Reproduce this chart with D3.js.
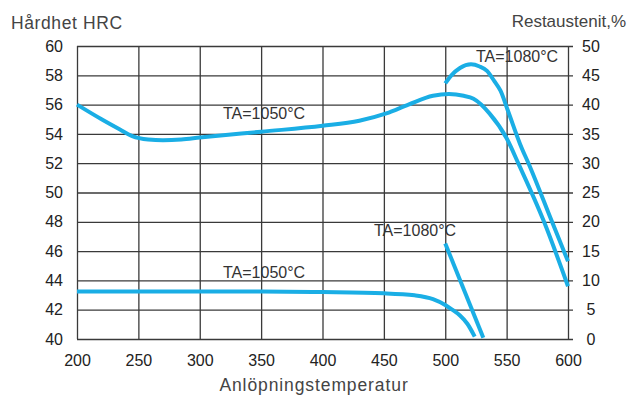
<!DOCTYPE html>
<html>
<head>
<meta charset="utf-8">
<script src="https://cdn.jsdelivr.net/npm/d3@7"></script>
<style>
  body { margin: 0; background: #fff; }
  text { font-family: "Liberation Sans", Arial, sans-serif; }
</style>
</head>
<body>
<div id="chart"></div>
<script>
// tick values
var xTicks = [200, 250, 300, 350, 400, 450, 500, 550, 600];
var hrcTicks = [40, 42, 44, 46, 48, 50, 52, 54, 56, 58, 60];
var raTicks = [0, 5, 10, 15, 20, 25, 30, 35, 40, 45, 50];

// hardness curves (left axis, HRC)
var hrc1050 = [[200, 56.0], [220, 55.0], [235, 54.3], [245, 53.85], [258, 53.62], [270, 53.57],
  [285, 53.62], [300, 53.75], [350, 54.15], [400, 54.55], [430, 54.9], [452, 55.4], [470, 56.0],
  [490, 56.6], [503, 56.72], [515, 56.6], [523, 56.4], [536, 55.4], [550, 53.7], [560, 51.9],
  [580, 48.1], [600, 43.6]];
var hrc1080 = [[500, 57.45], [505, 58.0], [512, 58.5], [521, 58.75], [528, 58.6], [534, 58.3],
  [540, 57.6], [545, 56.95], [551, 55.6], [561, 53.3], [569, 51.76], [586.5, 48.1], [600, 45.3]];

// retained austenite curves (right axis, %)
var ra1050 = [[200, 8.1], [300, 8.1], [350, 8.1], [400, 8.0], [450, 7.8], [475, 7.45], [490, 6.8],
  [500, 5.8], [505, 5.1], [512, 4.0], [518, 2.6], [524, 0.4]];
var ra1080 = [[500, 16.3], [531, 0.2]];

var svgWidth = 627, svgHeight = 396;
var margin = { top: 46, left: 77, right: 59, bottom: 57 };
var chartWidth = svgWidth - margin.left - margin.right;
var chartHeight = svgHeight - margin.top - margin.bottom;

var svg = d3.select("#chart").append("svg")
  .attr("width", svgWidth)
  .attr("height", svgHeight);

var chartGroup = svg.append("g")
  .attr("transform", `translate(${margin.left}, ${margin.top})`);

var xScale = d3.scaleLinear().domain([200, 600]).range([0, chartWidth]);
var yLeft = d3.scaleLinear().domain([40, 60]).range([chartHeight, 0]);
var yRight = d3.scaleLinear().domain([0, 50]).range([chartHeight, 0]);

var gridColor = "#3a3a3a";

// vertical grid
chartGroup.append("g")
  .attr("transform", `translate(0, ${chartHeight})`)
  .call(d3.axisBottom(xScale).tickValues(xTicks).tickSize(-chartHeight).tickFormat(""))
  .call(g => g.select(".domain").remove())
  .call(g => g.selectAll("line").attr("stroke", gridColor).attr("stroke-width", 1.3));

// horizontal grid (extends past right edge as ticks)
chartGroup.append("g")
  .attr("transform", `translate(${chartWidth + 5}, 0)`)
  .call(d3.axisLeft(yLeft).tickValues(hrcTicks).tickSize(chartWidth + 5).tickFormat(""))
  .call(g => g.select(".domain").remove())
  .call(g => g.selectAll("line").attr("stroke", gridColor).attr("stroke-width", 1.3));

// left axis labels
chartGroup.append("g")
  .call(d3.axisLeft(yLeft).tickValues(hrcTicks).tickSize(0).tickPadding(14))
  .call(g => g.select(".domain").remove())
  .call(g => g.selectAll("text")
    .attr("font-size", 16).attr("fill", "#222").attr("font-family", "Liberation Sans, Arial, sans-serif"));

// right axis labels
chartGroup.append("g")
  .attr("transform", `translate(${chartWidth}, 0)`)
  .call(d3.axisRight(yRight).tickValues(raTicks).tickSize(0).tickPadding(23))
  .call(g => g.select(".domain").remove())
  .call(g => g.selectAll("text")
    .attr("text-anchor", "middle")
    .attr("font-size", 16).attr("fill", "#222").attr("font-family", "Liberation Sans, Arial, sans-serif"));

// bottom axis labels
chartGroup.append("g")
  .attr("transform", `translate(0, ${chartHeight})`)
  .call(d3.axisBottom(xScale).tickValues(xTicks).tickSize(0))
  .call(g => g.select(".domain").remove())
  .call(g => g.selectAll("text")
    .attr("y", 27).attr("dy", 0)
    .attr("font-size", 16).attr("fill", "#222").attr("font-family", "Liberation Sans, Arial, sans-serif"));

// curves
var curveColor = "#1aaee5";
var lineLeft = d3.line()
  .x(d => xScale(d[0]))
  .y(d => yLeft(d[1]))
  .curve(d3.curveMonotoneX);
var lineRight = d3.line()
  .x(d => xScale(d[0]))
  .y(d => yRight(d[1]))
  .curve(d3.curveMonotoneX);

[hrc1050, hrc1080].forEach(function(data) {
  chartGroup.append("path")
    .datum(data)
    .attr("d", lineLeft)
    .attr("fill", "none")
    .attr("stroke", curveColor)
    .attr("stroke-width", 4);
});
[ra1050, ra1080].forEach(function(data) {
  chartGroup.append("path")
    .datum(data)
    .attr("d", lineRight)
    .attr("fill", "none")
    .attr("stroke", curveColor)
    .attr("stroke-width", 4);
});

// curve labels
var labels = [
  { text: "TA=1050°C", x: 223, y: 119 },
  { text: "TA=1080°C", x: 476, y: 62 },
  { text: "TA=1080°C", x: 374, y: 236 },
  { text: "TA=1050°C", x: 223, y: 278 }
];
svg.selectAll(".curveLabel")
  .data(labels)
  .enter()
  .append("text")
  .attr("class", "curveLabel")
  .attr("x", d => d.x)
  .attr("y", d => d.y)
  .attr("font-size", 16)
  .attr("fill", "#333")
  .text(d => d.text);

// axis titles
svg.append("text")
  .attr("x", 11)
  .attr("y", 29)
  .attr("font-size", 17.5)
  .attr("letter-spacing", 0.6)
  .attr("fill", "#444")
  .text("Hårdhet HRC");

svg.append("text")
  .attr("x", 626)
  .attr("y", 27)
  .attr("text-anchor", "end")
  .attr("font-size", 17)
  .attr("fill", "#444")
  .text("Restaustenit,%");

svg.append("text")
  .attr("x", 314)
  .attr("y", 391)
  .attr("text-anchor", "middle")
  .attr("font-size", 17.5)
  .attr("letter-spacing", 0.9)
  .attr("fill", "#444")
  .text("Anlöpningstemperatur");
</script>
</body>
</html>
